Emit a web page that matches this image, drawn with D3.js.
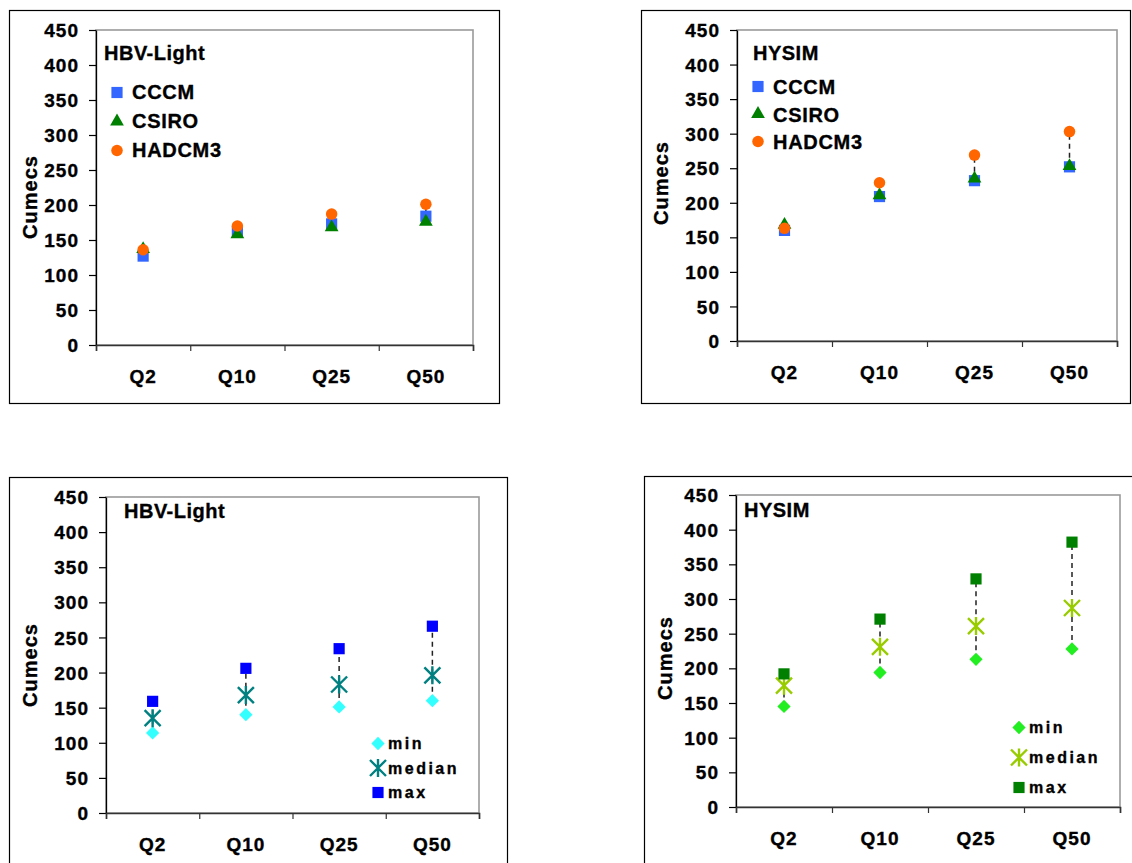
<!DOCTYPE html>
<html>
<head>
<meta charset="utf-8">
<script src="https://cdn.jsdelivr.net/npm/d3@7"></script>
<style>
  body { margin: 0; background: #fff; }
  svg { display: block; }
  text { font-family: "Liberation Sans", Arial, Helvetica, sans-serif; font-weight: bold; fill: #000; stroke: #000; stroke-width: 0.35px; }
</style>
</head>
<body>
<svg id="chart" width="1132" height="863"></svg>
<script>
// Flood quantiles and axis ticks
const quantiles = ["Q2", "Q10", "Q25", "Q50"];
const yTicks = [0, 50, 100, 150, 200, 250, 300, 350, 400, 450];

// HBV-Light peak flows per climate model (cumecs)
const hbvCCCM   = [127, 162, 173, 184];
const hbvCSIRO  = [137, 158, 168, 176];
const hbvHADCM3 = [136, 170, 187, 201];

// HYSIM peak flows per climate model (cumecs)
const hysimCCCM   = [160, 209, 232, 252];
const hysimCSIRO  = [168, 211, 235, 253];
const hysimHADCM3 = [163, 229, 269, 303];

// HBV-Light ensemble summary
const hbvMin    = [114, 140, 151, 160];
const hbvMedian = [135, 168, 183, 196];
const hbvMax    = [159, 206, 234, 266];

// HYSIM ensemble summary
const hysimMin    = [145, 194, 213, 228];
const hysimMedian = [175, 231, 261, 287];
const hysimMax    = [192, 271, 329, 382];

const svg = d3.select("#chart");

// Marker shapes
const markerPath = {
  square:   d3.symbol().type(d3.symbolSquare).size(125)(),
  triangle: d3.symbol().type(d3.symbolTriangle).size(82)(),
  circle:   d3.symbol().type(d3.symbolCircle).size(104)(),
  diamond:  d3.symbol().type(d3.symbolSquare).size(88)(),
  asterisk: "M-8,-8L8,8M-8,8L8,-8M0,-9L0,9"
};

function drawMarker(g, shape, color, cx, cy) {
  const p = g.append("path")
    .attr("d", markerPath[shape])
    .attr("transform", `translate(${cx},${cy})` + (shape === "diamond" ? " rotate(45)" : ""));
  if (shape === "asterisk") {
    p.attr("fill", "none").attr("stroke", color).attr("stroke-width", 2.4);
  } else {
    p.attr("fill", color);
  }
}

const panels = [
  {
    title: "HBV-Light", titleX: 104, titleY: 60,
    frame: [9, 10, 490, 393], l: 96, r: 473, t: 30, b: 345, ylabX: 37, ylabY: 197,
    series: [
      { name: "CCCM",   values: hbvCCCM,   color: "#3366FF", shape: "square" },
      { name: "CSIRO",  values: hbvCSIRO,  color: "#008000", shape: "triangle" },
      { name: "HADCM3", values: hbvHADCM3, color: "#FF6600", shape: "circle" }
    ],
    legend: { mx: 117, tx: 132, y0: 99, step: 29, size: 20, spacing: 0.7, dy: -6.5 }
  },
  {
    title: "HYSIM", titleX: 753, titleY: 60,
    frame: [641, 10, 489, 393], l: 737, r: 1117, t: 30, b: 341, ylabX: 668, ylabY: 183,
    series: [
      { name: "CCCM",   values: hysimCCCM,   color: "#3366FF", shape: "square" },
      { name: "CSIRO",  values: hysimCSIRO,  color: "#008000", shape: "triangle" },
      { name: "HADCM3", values: hysimHADCM3, color: "#FF6600", shape: "circle" }
    ],
    legend: { mx: 758, tx: 773, y0: 94, step: 27.5, size: 20, spacing: 0.7, dy: -7.5 }
  },
  {
    title: "HBV-Light", titleX: 124, titleY: 518,
    frame: [9, 477, 498, 420], l: 106, r: 479, t: 497, b: 813, ylabX: 37, ylabY: 665,
    series: [
      { name: "min",    values: hbvMin,    color: "#33FFFF", shape: "diamond" },
      { name: "median", values: hbvMedian, color: "#008080", shape: "asterisk" },
      { name: "max",    values: hbvMax,    color: "#0000FF", shape: "square" }
    ],
    legend: { mx: 378, tx: 388, y0: 749, step: 24.5, size: 16, spacing: 2.5, dy: -5.5 }
  },
  {
    title: "HYSIM", titleX: 744, titleY: 517,
    frame: [644, 476, 520, 420], l: 736, r: 1120, t: 495, b: 807, ylabX: 672, ylabY: 658,
    series: [
      { name: "min",    values: hysimMin,    color: "#22EE22", shape: "diamond" },
      { name: "median", values: hysimMedian, color: "#99CC00", shape: "asterisk" },
      { name: "max",    values: hysimMax,    color: "#008000", shape: "square" }
    ],
    legend: { mx: 1019, tx: 1029, y0: 733, step: 30, size: 16, spacing: 2.5, dy: -5.5 }
  }
];

function drawPanel(p) {
  const g = svg.append("g");

  // Outer chart frame
  g.append("rect")
    .attr("x", p.frame[0] + 0.5).attr("y", p.frame[1] + 0.5)
    .attr("width", p.frame[2]).attr("height", p.frame[3])
    .attr("fill", "#fff").attr("stroke", "#000").attr("stroke-width", 1.2);

  const x = d3.scaleBand().domain(quantiles).range([p.l, p.r]);
  const xEdges = d3.scaleLinear().domain([0, quantiles.length]).range([p.l, p.r]);
  const y = d3.scaleLinear().domain([0, 450]).range([p.b, p.t]);

  // Plot area border
  g.append("rect")
    .attr("x", p.l).attr("y", p.t)
    .attr("width", p.r - p.l).attr("height", p.b - p.t)
    .attr("fill", "none").attr("stroke", "#9a9a9a").attr("stroke-width", 1.6);

  // Y axis
  const ya = g.append("g")
    .attr("transform", `translate(${p.l},0)`)
    .call(d3.axisLeft(y).tickValues(yTicks).tickSize(7).tickPadding(10).tickSizeOuter(0));
  ya.select(".domain").attr("stroke", "#000").attr("stroke-width", 1.3);
  ya.selectAll(".tick line").attr("stroke", "#000").attr("stroke-width", 1.2);
  ya.selectAll(".tick text")
    .style("font-size", "19px").style("letter-spacing", "1px")
    .attr("font-family", null).attr("fill", null).attr("dy", "0.35em");

  // X axis: tick marks at category boundaries
  const xa = g.append("g")
    .attr("transform", `translate(0,${p.b})`)
    .call(d3.axisBottom(xEdges).tickValues(d3.range(quantiles.length + 1)).tickSize(6).tickFormat(""));
  xa.select(".domain").attr("stroke", "#333").attr("stroke-width", 1.6);
  xa.selectAll(".tick line").attr("stroke", "#333").attr("stroke-width", 1.2);

  // X axis: category labels at band centres
  const xl = g.append("g")
    .attr("transform", `translate(0,${p.b})`)
    .call(d3.axisBottom(x).tickSize(0).tickPadding(25));
  xl.select(".domain").remove();
  xl.selectAll(".tick text")
    .style("font-size", "19px").style("letter-spacing", "1px")
    .attr("font-family", null).attr("fill", null);

  // Y axis title
  g.append("text")
    .attr("transform", `translate(${p.ylabX},${p.ylabY}) rotate(-90)`)
    .attr("text-anchor", "middle")
    .style("font-size", "20px").style("letter-spacing", "1px")
    .text("Cumecs");

  // Panel title
  g.append("text")
    .attr("x", p.titleX).attr("y", p.titleY)
    .style("font-size", "20px").style("letter-spacing", "0.5px")
    .text(p.title);

  // Dashed high-low lines per category
  const cx = q => x(q) + x.bandwidth() / 2;
  quantiles.forEach((q, i) => {
    const vals = p.series.map(s => s.values[i]);
    g.append("line")
      .attr("x1", cx(q)).attr("x2", cx(q))
      .attr("y1", y(d3.min(vals))).attr("y2", y(d3.max(vals)))
      .attr("stroke", "#222").attr("stroke-width", 1.5)
      .attr("stroke-dasharray", "5,4");
  });

  // Markers
  p.series.forEach(s => {
    quantiles.forEach((q, i) => drawMarker(g, s.shape, s.color, cx(q), y(s.values[i])));
  });

  // Legend
  const L = p.legend;
  p.series.forEach((s, k) => {
    const by = L.y0 + k * L.step;
    drawMarker(g, s.shape, s.color, L.mx, by + L.dy);
    g.append("text")
      .attr("x", L.tx).attr("y", by)
      .style("font-size", L.size + "px").style("letter-spacing", L.spacing + "px")
      .text(s.name);
  });
}

panels.forEach(drawPanel);
</script>
</body>
</html>
